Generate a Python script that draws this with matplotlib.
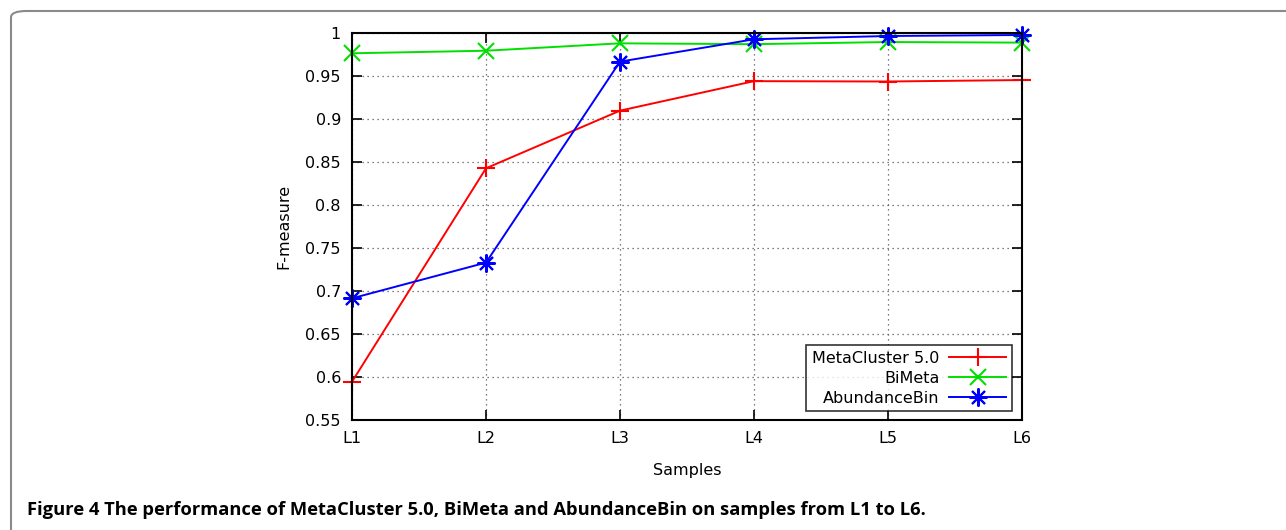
import matplotlib
matplotlib.use("Agg")
import matplotlib.pyplot as plt
from matplotlib.patches import FancyBboxPatch

samples = ["L1", "L2", "L3", "L4", "L5", "L6"]
metacluster = [0.5945, 0.8427, 0.9097, 0.944, 0.9436, 0.9453]
bimeta = [0.9764, 0.9794, 0.988, 0.987, 0.9895, 0.9888]
abundancebin = [0.6915, 0.733, 0.9667, 0.9927, 0.9965, 0.9977]
yticks = [0.55, 0.6, 0.65, 0.7, 0.75, 0.8, 0.85, 0.9, 0.95, 1]
ytick_labels = ["0.55", "0.6", "0.65", "0.7", "0.75", "0.8", "0.85", "0.9", "0.95", "1"]

plt.rcParams['font.family'] = ['DejaVu Sans']
fig = plt.figure(figsize=(12.86, 5.30), dpi=100)

# rounded frame around the figure panel
W, H = 1286, 530
frame = FancyBboxPatch((11 / W, -0.2), 1.2, (530 - 11) / H + 0.2,
                       boxstyle="round,pad=0,rounding_size=0.012",
                       transform=fig.transFigure, fill=False,
                       edgecolor="#8a8a8a", linewidth=1.5)
fig.patches.append(frame)

ax = fig.add_axes([352 / W, 1 - 420 / H, (1022 - 352) / W, (420 - 33) / H])
x = list(range(len(samples)))

ax.plot(x, metacluster, color="#ff0000", lw=1.4, marker="+", ms=13, mew=1.5,
        label="MetaCluster 5.0", clip_on=False)
ax.plot(x, bimeta, color="#00e000", lw=1.4, marker="x", ms=11, mew=1.5,
        label="BiMeta", clip_on=False)
ax.plot(x, abundancebin, color="#0000ff", lw=1.4, marker=(8, 2, 0), ms=13, mew=1.5,
        label="AbundanceBin", clip_on=False)

ax.set_xlim(0, 5)
ax.set_ylim(0.55, 1)
ax.set_xticks(x)
ax.set_xticklabels(samples)
ax.set_yticks(yticks)
ax.set_yticklabels(ytick_labels)
ax.tick_params(direction="in", top=True, right=True, length=7, width=1.2,
               labelsize=11.5, pad=8)
for s in ax.spines.values():
    s.set_linewidth(1.5)
ax.grid(True, linestyle=(0, (1, 3)), color="#555555", linewidth=0.9)
ax.set_axisbelow(True)

ax.set_xlabel("Samples", fontsize=11.5, labelpad=12)
ax.set_ylabel("F-measure", fontsize=11.5, labelpad=10)

leg = ax.legend(loc="lower right", markerfirst=False, fontsize=11.5,
                frameon=True, fancybox=False, edgecolor="black",
                bbox_to_anchor=(0.985, 0.023), borderaxespad=0,
                handlelength=3.6, borderpad=0.35, labelspacing=0.3,
                handletextpad=0.6)
leg.get_frame().set_linewidth(1.2)
leg.set_zorder(5)
for t in leg.get_texts():
    t.set_ha("right")
leg._legend_box.align = "right"

fig.text(27 / W, 1 - 510 / H,
         "Figure 4 The performance of MetaCluster 5.0, BiMeta and AbundanceBin on samples from L1 to L6.",
         fontsize=13.2, fontweight="bold", family="Open Sans", va="center", ha="left")

fig.savefig("out.png", dpi=100)
